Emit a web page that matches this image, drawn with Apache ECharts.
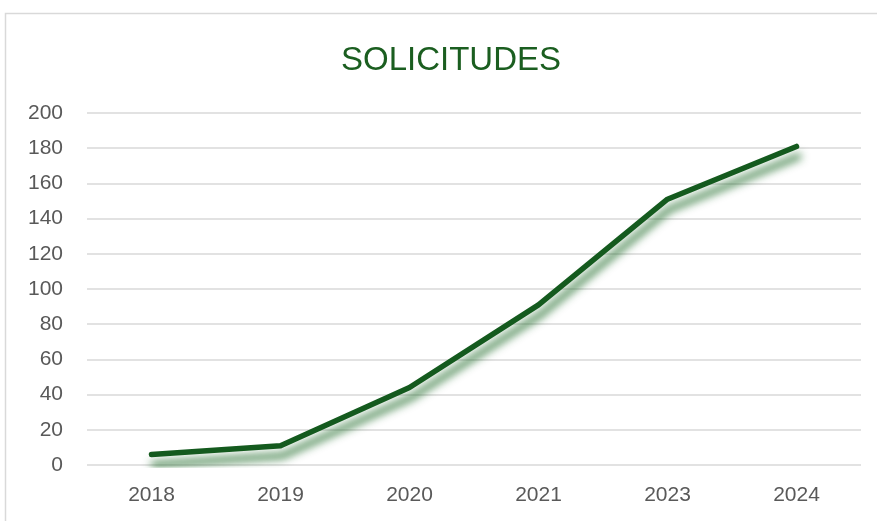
<!DOCTYPE html>
<html>
<head>
<meta charset="utf-8">
<script src="https://cdn.jsdelivr.net/npm/echarts@6/dist/echarts.min.js"></script>
<style>
  html, body { margin: 0; padding: 0; background: #fff; }
  #chart { width: 877px; height: 521px; }
</style>
</head>
<body>
<div id="chart"></div>
<script>
// datos
const years = ['2018', '2019', '2020', '2021', '2023', '2024']
const solicitudes = [6, 11, 44, 91, 151, 181]
const yTicks = { min: 0, max: 200, step: 20 }

const chart = echarts.init(document.getElementById('chart'))

chart.setOption({
  animation: false,
  backgroundColor: '#fff',
  textStyle: { fontFamily: 'Liberation Sans, Arial, sans-serif' },
  title: {
    text: 'SOLICITUDES',
    left: 336,
    top: 39,
    textStyle: { color: '#1b5e20', fontSize: 33, fontWeight: 'normal' }
  },
  graphic: [{
    type: 'rect',
    shape: { x: 5.5, y: 13.5, width: 900, height: 600 },
    style: { fill: 'none', stroke: '#d9d9d9', lineWidth: 1.5 },
    silent: true
  }],
  grid: { left: 87, right: 16, top: 113, bottom: 56 },
  xAxis: {
    type: 'category',
    data: years,
    boundaryGap: true,
    axisLine: { show: false },
    axisTick: { show: false },
    axisLabel: { color: '#595959', fontSize: 21, margin: 20 }
  },
  yAxis: {
    type: 'value',
    min: yTicks.min,
    max: yTicks.max,
    interval: yTicks.step,
    axisLine: { show: false },
    axisTick: { show: false },
    axisLabel: { color: '#595959', fontSize: 21, margin: 24 },
    splitLine: { lineStyle: { color: '#d9d9d9', width: 1.5 } }
  },
  series: [{
    type: 'line',
    data: solicitudes,
    symbol: 'none',
    lineStyle: {
      color: '#145a1e',
      width: 5.5,
      cap: 'round',
      join: 'round',
      shadowColor: 'rgba(20, 100, 30, 0.85)',
      shadowBlur: 8,
      shadowOffsetX: 2,
      shadowOffsetY: 10
    }
  }]
})

window.addEventListener('resize', () => chart.resize())
</script>
</body>
</html>
